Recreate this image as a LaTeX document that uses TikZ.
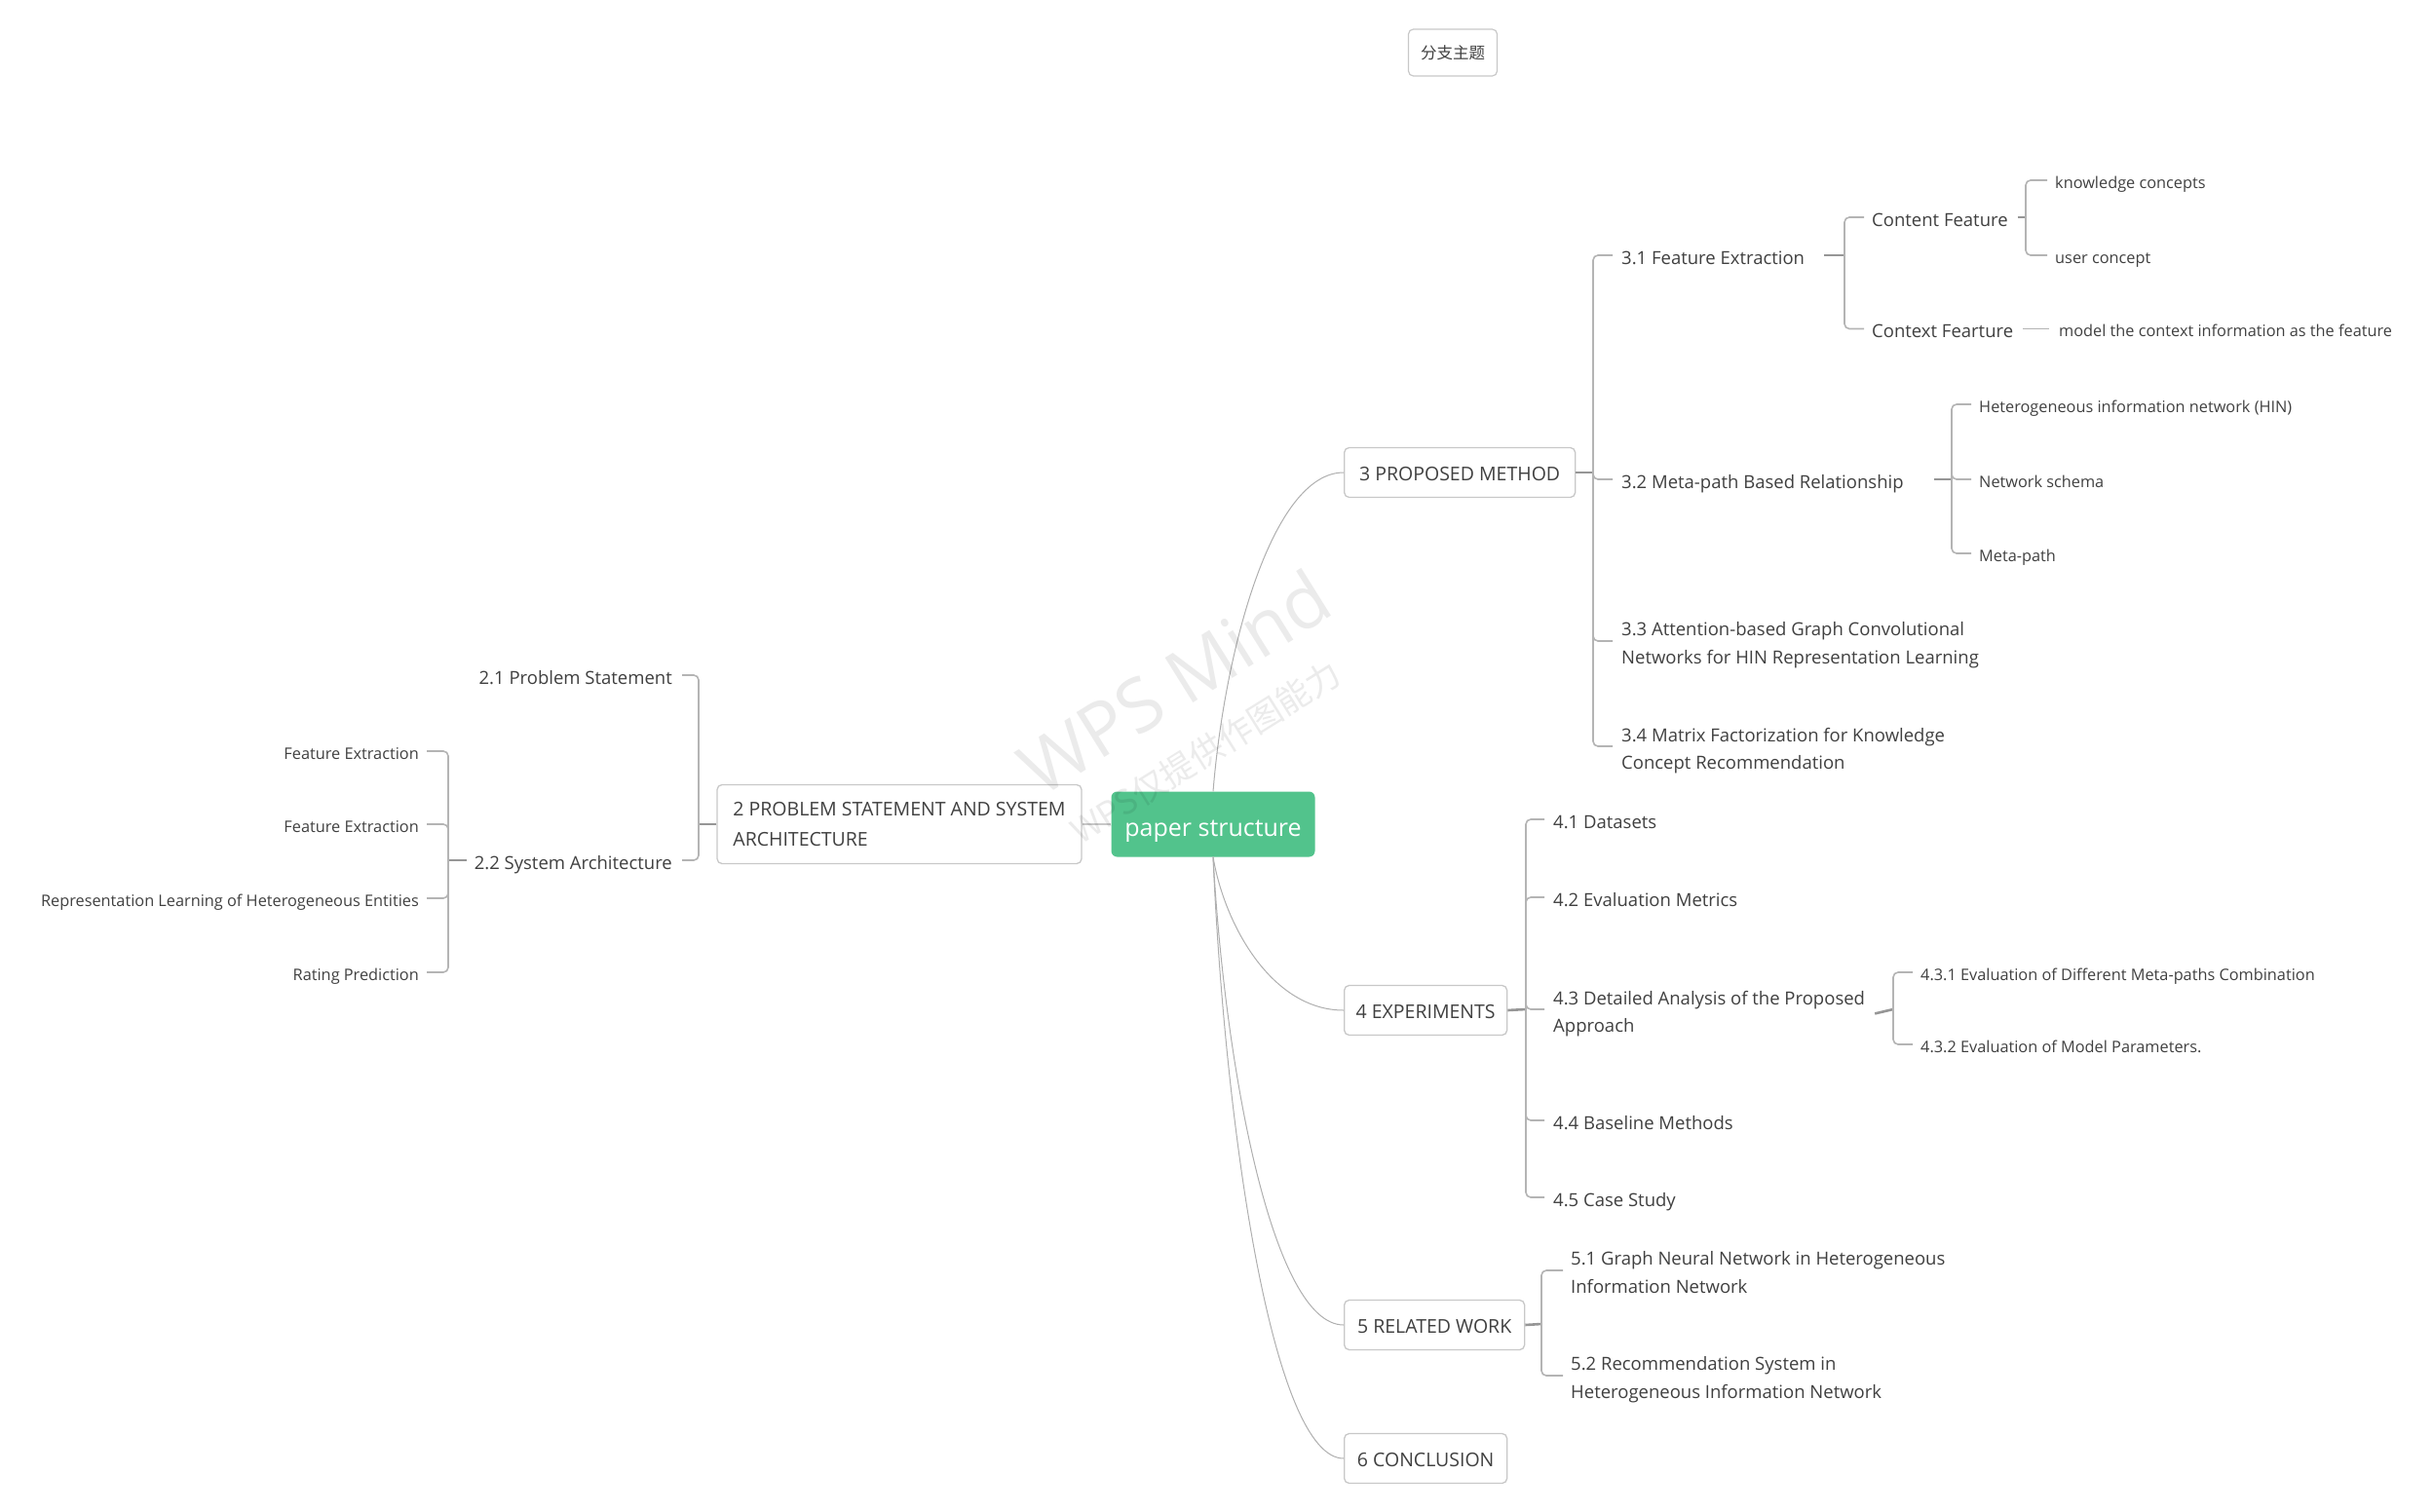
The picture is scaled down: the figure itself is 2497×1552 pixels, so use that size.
\documentclass[tikz,border=0pt]{standalone}
\usepackage{fontspec}
\setmainfont{Open Sans}
\newfontfamily\cjk{Noto Sans CJK SC}
\usepackage{xcolor}
\usepackage{tikz}
\definecolor{inkgray}{RGB}{64,64,64}
\definecolor{boxgray}{RGB}{200,200,200}
\definecolor{stemgray}{RGB}{150,150,150}
\definecolor{brkgray}{RGB}{180,180,180}
\definecolor{linkgray}{RGB}{175,175,175}
\definecolor{mindgreen}{RGB}{82,195,140}

\begin{document}
\begin{tikzpicture}[x=1pt, y=-1pt,
  every node/.style={text=inkgray},
  root/.style={fill=mindgreen, rounded corners=6pt, minimum width=209pt, minimum height=67pt, inner sep=0pt,
    text=white, font=\fontsize{25}{30}\selectfont, text height=24pt, text depth=0pt},
  floatbox/.style={draw=boxgray, line width=1.2pt, rounded corners=5pt, minimum width=91pt, minimum height=48pt,
    font=\cjk\fontsize{16.5}{20}\selectfont},
  topicbox/.style={draw=boxgray, line width=1.3pt, fill=white, rounded corners=5pt, inner xsep=0pt,
    font=\fontsize{19.5}{31}\selectfont},
  topic/.style={topicbox, anchor=west, minimum height=51pt, text height=17pt, text depth=0pt},
  sub/.style={anchor=west, inner sep=0pt, font=\fontsize{18.5}{28.5}\selectfont, text height=18pt, text depth=0pt},
  subtwo/.style={anchor=west, inner sep=0pt, font=\fontsize{18.5}{28.5}\selectfont, align=left},
  leaf/.style={anchor=west, inner sep=0pt, font=\fontsize{16.3}{22}\selectfont, text height=16pt, text depth=0pt},
  stem/.style={draw=stemgray, line width=2.6pt},
  brk/.style={draw=brkgray, line width=1.6pt, rounded corners=5pt},
  link/.style={draw=linkgray, line width=1pt},
  wmark/.style={rotate=32, text=black, text opacity=0.08}
]
\useasboundingbox (0,0) rectangle (2497,1552);

\node[floatbox] (fl) at (1491,54) {分支主题};
\node[root] (root) at (1245,846) {paper structure};

\node[topicbox, minimum width=374pt, minimum height=81pt, align=left] (s2) at (923,846) {2 PROBLEM STATEMENT AND SYSTEM\\ARCHITECTURE};
\node[topic, minimum width=237pt] (s3) at (1379,485) {3 PROPOSED METHOD};
\node[topic, minimum width=167pt] (s4) at (1379,1037) {4 EXPERIMENTS};
\node[topic, minimum width=185pt] (s5) at (1379,1360) {5 RELATED WORK};
\node[topic, minimum width=167pt] (s6) at (1379,1497) {6 CONCLUSION};

\node[sub, anchor=east] (n21) at (690,693) {2.1 Problem Statement};
\node[sub, anchor=east] (n22) at (690,883) {2.2 System Architecture};
\node[leaf, anchor=east] (n221) at (430,771) {Feature Extraction};
\node[leaf, anchor=east] (n222) at (430,846) {Feature Extraction};
\node[leaf, anchor=east] (n223) at (430,922) {Representation Learning of Heterogeneous Entities};
\node[leaf, anchor=east] (n224) at (430,998) {Rating Prediction};

\node[sub] (n31) at (1664,262) {3.1 Feature Extraction};
\node[sub] (n32) at (1664,492) {3.2 Meta-path Based Relationship};
\node[subtwo] (n33) at (1664,662.4) {3.3 Attention-based Graph Convolutional\\Networks for HIN Representation Learning};
\node[subtwo] (n34) at (1664,770.4) {3.4 Matrix Factorization for Knowledge\\Concept Recommendation};
\node[sub] (n311) at (1921,223) {Content Feature};
\node[sub] (n312) at (1921,337.5) {Context Fearture};
\node[leaf] (n3111) at (2109,185) {knowledge concepts};
\node[leaf] (n3112) at (2109,262) {user concept};
\node[leaf] (n3121) at (2113,337.5) {model the context information as the feature};
\node[leaf] (n321) at (2031,415) {Heterogeneous information network (HIN)};
\node[leaf] (n322) at (2031,492) {Network schema};
\node[leaf] (n323) at (2031,568) {Meta-path};

\node[sub] (n41) at (1594,841) {4.1 Datasets};
\node[sub] (n42) at (1594,921) {4.2 Evaluation Metrics};
\node[subtwo] (n43) at (1594,1040.4) {4.3 Detailed Analysis of the Proposed\\Approach};
\node[sub] (n44) at (1594,1150) {4.4 Baseline Methods};
\node[sub] (n45) at (1594,1229) {4.5 Case Study};
\node[leaf] (n431) at (1971,998) {4.3.1 Evaluation of Different Meta-paths Combination};
\node[leaf] (n432) at (1971,1072) {4.3.2 Evaluation of Model Parameters.};

\node[subtwo] (n51) at (1612,1306.2) {5.1 Graph Neural Network in Heterogeneous\\Information Network};
\node[subtwo] (n52) at (1612,1416.4) {5.2 Recommendation System in\\Heterogeneous Information Network};

\coordinate (b2) at (717,846);
\coordinate (b22) at (460,883);
\coordinate (b3) at (1635,485);
\coordinate (b31) at (1893,262);
\coordinate (b311) at (2079,223);
\coordinate (b32) at (2003,492);
\coordinate (b4) at (1566,1036);
\coordinate (b43) at (1943,1036);
\coordinate (b5) at (1582,1359);

\draw[link, draw=boxgray, line width=2pt] (s2.east) -- (root.west);
\draw[link] (root.north) .. controls +(12,-147) and +(-73,0) .. (s3.west);
\draw[link] (root.south) .. controls +(12,71) and +(-73,0) .. (s4.west);
\draw[link] (root.south) .. controls +(12,216) and +(-73,0) .. (s5.west);
\draw[link] (root.south) .. controls +(12,278) and +(-73,0) .. (s6.west);

\draw[stem] (s2.west) -- (b2);
\draw[brk] (b2) |- ([xshift=10pt]n21.east);
\draw[brk] (b2) |- ([xshift=10pt]n22.east);
\draw[stem] ([xshift=-8pt]n22.west) -- (b22);
\draw[brk] (b22) |- ([xshift=8pt]n221.east);
\draw[brk] (b22) |- ([xshift=8pt]n222.east);
\draw[brk] (b22) |- ([xshift=8pt]n223.east);
\draw[brk] (b22) |- ([xshift=8pt]n224.east);

\draw[stem] (s3.east) -- (b3);
\draw[brk] (b3) |- ([xshift=-9pt]n31.west);
\draw[brk] (b3) |- ([xshift=-9pt]n32.west);
\draw[brk] (b3) |- ([shift={(-9pt,4.4pt)}]n33.west);
\draw[brk] (b3) |- ([shift={(-9pt,4.4pt)}]n34.west);
\draw[stem] ([xshift=20pt]n31.east) -- (b31);
\draw[brk] (b31) |- ([xshift=-8pt]n311.west);
\draw[brk] (b31) |- ([xshift=-8pt]n312.west);
\draw[stem] ([xshift=10pt]n311.east) -- (b311);
\draw[brk] (b311) |- ([xshift=-8pt]n3111.west);
\draw[brk] (b311) |- ([xshift=-8pt]n3112.west);
\draw[brk] ([xshift=10pt]n312.east) -- ([xshift=-10pt]n3121.west);
\draw[stem] ([xshift=31pt]n32.east) -- (b32);
\draw[brk] (b32) |- ([xshift=-8pt]n321.west);
\draw[brk] (b32) |- ([xshift=-8pt]n322.west);
\draw[brk] (b32) |- ([xshift=-8pt]n323.west);

\draw[stem] (s4.east) -- (b4);
\draw[brk] (b4) |- ([xshift=-9pt]n41.west);
\draw[brk] (b4) |- ([xshift=-9pt]n42.west);
\draw[brk] (b4) |- ([shift={(-9pt,4.4pt)}]n43.west);
\draw[brk] (b4) |- ([xshift=-9pt]n44.west);
\draw[brk] (b4) |- ([xshift=-9pt]n45.west);
\draw[stem] ([xshift=10pt]n43.east) -- (b43);
\draw[brk] (b43) |- ([xshift=-8pt]n431.west);
\draw[brk] (b43) |- ([xshift=-8pt]n432.west);

\draw[stem] (s5.east) -- (b5);
\draw[brk] (b5) |- ([shift={(-8pt,2.2pt)}]n51.west);
\draw[brk] (b5) |- ([shift={(-8pt,4.4pt)}]n52.west);

\node[wmark, font=\fontsize{76}{80}\selectfont] (wm1) at (1205,700) {WPS Mind};
\node[wmark, font=\cjk\fontsize{35}{40}\selectfont] (wm2) at (1237,772) {WPS仅提供作图能力};
\end{tikzpicture}
\end{document}
